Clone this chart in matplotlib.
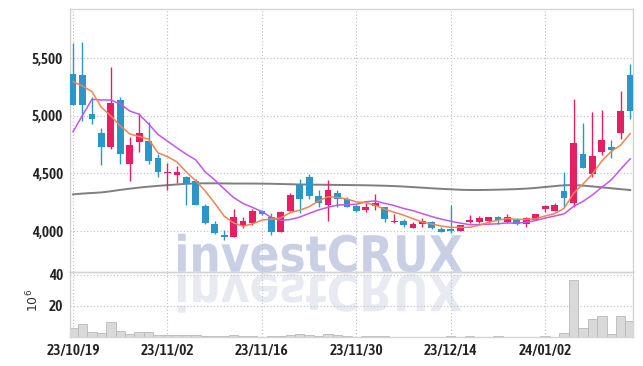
import numpy as np
import matplotlib
matplotlib.use('Agg')
import matplotlib.pyplot as plt
from matplotlib import font_manager as fm
from matplotlib.textpath import TextPath
from matplotlib.patches import PathPatch
from matplotlib.font_manager import FontProperties
from matplotlib.transforms import Affine2D

# daily candles (23/10/19 .. 24/01/15)
opens = [5363, 5350, 5015, 4850, 4725, 5140, 4580, 4770, 4780, 4635,
         4500, 4485, 4470, 4435, 4215, 4060, 3965, 3950, 4045, 4072,
         4175, 4125, 3995, 4176, 4397, 4465, 4305, 4226, 4333, 4275,
         4217, 4182, 4217, 4206, 4079, 4087, 4029, 4058, 4075, 4017,
         4020, 4003, 4078, 4078, 4089, 4119, 4075, 4095, 4061, 4095,
         4188, 4176, 4347, 4240, 4668, 4495, 4688, 4732, 4853, 5354]
highs = [5630, 5640, 5165, 4890, 5420, 5160, 4820, 5020, 4950, 4665,
         4590, 4565, 4475, 4450, 4235, 4085, 4010, 4195, 4120, 4195,
         4180, 4155, 4172, 4327, 4450, 4492, 4356, 4443, 4355, 4298,
         4225, 4245, 4321, 4210, 4145, 4100, 4075, 4110, 4085, 4032,
         4225, 4055, 4139, 4130, 4122, 4130, 4145, 4110, 4120, 4148,
         4226, 4246, 4515, 5143, 4935, 5030, 5050, 4790, 5215, 5447]
lows = [5090, 4955, 4925, 4575, 4710, 4585, 4435, 4690, 4585, 4470,
        4360, 4420, 4225, 4222, 4058, 3975, 3920, 3945, 4030, 4052,
        4135, 3965, 3990, 4172, 4155, 4275, 4210, 4090, 4212, 4205,
        4168, 4168, 4182, 4080, 4066, 4037, 4023, 4037, 4018, 3990,
        3980, 3998, 4066, 4066, 4072, 4058, 4066, 4052, 4037, 4092,
        4168, 4176, 4206, 4211, 4545, 4466, 4660, 4631, 4796, 4970]
closes = [5094, 5095, 4970, 4725, 5110, 4665, 4745, 4855, 4610, 4515,
          4505, 4515, 4415, 4230, 4070, 3980, 3950, 4120, 4085, 4175,
          4145, 3995, 4168, 4312, 4278, 4300, 4246, 4356, 4275, 4212,
          4178, 4211, 4240, 4104, 4083, 4052, 4058, 4087, 4023, 3994,
          4000, 4052, 4095, 4110, 4119, 4095, 4124, 4058, 4110, 4145,
          4217, 4226, 4289, 4760, 4549, 4651, 4790, 4703, 5042, 5044]

# moving averages as drawn
ma5 = [5296, 5259, 5210, 5074, 4999, 4913, 4843, 4820, 4797, 4678,
       4646, 4600, 4512, 4436, 4347, 4242, 4129, 4070, 4041, 4062,
       4095, 4104, 4114, 4159, 4180, 4211, 4261, 4298, 4291, 4278,
       4253, 4246, 4223, 4189, 4163, 4138, 4107, 4077, 4061, 4043,
       4032, 4031, 4033, 4050, 4075, 4094, 4109, 4101, 4101, 4106,
       4131, 4151, 4197, 4327, 4408, 4495, 4608, 4691, 4747, 4846]
ma10 = [4862, 5004, 5143, 5137, 5137, 5102, 5042, 5013, 4929, 4838,
        4780, 4722, 4666, 4617, 4513, 4444, 4365, 4291, 4239, 4205,
        4169, 4117, 4092, 4100, 4121, 4153, 4183, 4206, 4225, 4229,
        4232, 4254, 4261, 4240, 4221, 4196, 4177, 4150, 4125, 4103,
        4085, 4069, 4055, 4056, 4059, 4063, 4070, 4067, 4076, 4091,
        4113, 4130, 4149, 4214, 4257, 4313, 4380, 4444, 4537, 4627]
ma_long = [4318, 4325, 4330, 4335, 4345, 4357, 4367, 4377, 4385, 4392,
           4398, 4404, 4410, 4413, 4414, 4414, 4413, 4412, 4412, 4412,
           4411, 4410, 4408, 4406, 4404, 4403, 4402, 4401, 4400, 4399,
           4398, 4397, 4395, 4393, 4390, 4386, 4381, 4376, 4371, 4366,
           4362, 4358, 4356, 4356, 4357, 4359, 4361, 4364, 4368, 4374,
           4382, 4390, 4397, 4399, 4394, 4387, 4379, 4371, 4363, 4356]

# volume in millions
volume = [5.9, 8.4, 3.4, 2.7, 9.7, 4.0, 2.1, 3.4, 3.4, 1.1,
          1.1, 1.0, 1.0, 1.0, 0.8, 0.6, 0.6, 1.5, 0.4, 0.4,
          0.2, 0.4, 0.4, 1.0, 2.1, 1.5, 0.6, 2.1, 1.0, 0.4,
          0.1, 0.4, 0.4, 0.4, 0.1, 0.1, 0.1, 0.1, 0.1, 0.1,
          0.4, 0.1, 0.4, 0.1, 0.1, 0.4, 0.1, 0.1, 0.1, 0.1,
          0.4, 0.1, 2.7, 36.8, 6.1, 11.8, 13.7, 1.7, 13.5, 10.3]

tick_pos = [0, 10, 20, 30, 40, 50]
tick_labels = ['23/10/19', '23/11/02', '23/11/16', '23/11/30', '23/12/14', '24/01/02']
price_ticks = [4000, 4500, 5000, 5500]
vol_ticks = [20, 40]

RED = '#e61e64'
BLUE = '#2b96c8'
GRID = '#b9bdd9'
SPINE = '#d4d4d4'


# look for a narrow/condensed face among the installed fonts
def narrow_font():
    best = None
    for f in fm.fontManager.ttflist:
        st = str(f.stretch)
        if 'Narrow' in f.name or st in ('condensed', 'semi-condensed'):
            w = f.weight if isinstance(f.weight, int) else {'normal': 400, 'regular': 400, 'medium': 500,
                                                              'semibold': 600, 'bold': 700}.get(f.weight, 400)
            if f.style != 'normal':
                continue
            score = abs(w - 600) + (0 if st == 'condensed' or 'Narrow' in f.name else 50)
            if best is None or score < best[0]:
                best = (score, f.fname)
    if best:
        return FontProperties(fname=best[1], size=11)
    return FontProperties(family='DejaVu Sans', weight='bold', size=9.5)


tick_font = narrow_font()

fig = plt.figure(figsize=(6.43, 3.66), dpi=100)
ax = fig.add_axes([0.1089, 0.2577, 0.8756, 0.7177])
axv = fig.add_axes([0.1089, 0.0792, 0.8756, 0.1785], sharex=ax)
for a in (ax, axv):
    a.set_facecolor('none')
    for s in a.spines.values():
        s.set_color(SPINE)
        s.set_linewidth(1.0)
    a.grid(True, linestyle=(0, (1, 2)), color=GRID, linewidth=0.8)
    a.set_axisbelow(True)
    a.tick_params(length=0, labelcolor='#222222', pad=5)

o = np.array(opens)
c = np.array(closes)
x = np.arange(len(c))
colors = np.where(c >= o, RED, BLUE)

# candles
ax.vlines(x, lows, highs, colors=colors, linewidth=1.0, zorder=3)
body = np.maximum(np.abs(c - o), 12)
ax.bar(x, body, bottom=np.minimum(o, c), width=0.72, color=colors, linewidth=0, zorder=4)

# moving averages
ax.plot(x, ma_long, color='#7f7f7f', linewidth=1.4, zorder=2)
ax.plot(x, ma10, color='#c455ee', linewidth=1.1, zorder=5)
ax.plot(x, ma5, color='#f08550', linewidth=1.1, zorder=6)

ax.set_ylim(3647, 5927)
ax.set_yticks(price_ticks)
ax.set_yticklabels([f'{v:,}' for v in price_ticks], fontproperties=tick_font)
ax.tick_params(labelbottom=False)

# volume
axv.bar(x, volume, width=1.0, color='#d9d9d9', edgecolor='#b8b8b8', linewidth=0.6, zorder=2)
axv.set_ylim(0, 42)
axv.set_yticks(vol_ticks)
axv.set_yticklabels([str(v) for v in vol_ticks], fontproperties=tick_font)
axv.set_xticks(tick_pos)
axv.set_xticklabels(tick_labels, fontproperties=tick_font)
axv.set_xlim(-0.32, 59.3)

fig.text(0.052, 0.178, r'$10^6$', rotation=90, ha='center', va='center',
         fontsize=9, color='#333333', family='DejaVu Sans')

# watermark with reflection
tp = TextPath((0, 0), 'investCRUX', size=1, prop=FontProperties(family='DejaVu Sans', weight='bold'))
bb = tp.get_extents()
sx = 2.84 / bb.width
sy = 0.38 / bb.ymax
tr = Affine2D().translate(-bb.x0, 0).scale(sx, sy).translate(1.78, 0.943) + fig.dpi_scale_trans
fig.add_artist(PathPatch(tp, transform=tr, facecolor='#c9d0e5', edgecolor='none', zorder=-1))
tr2 = Affine2D().translate(-bb.x0, 0).scale(sx, -sy).translate(1.78, 0.913) + fig.dpi_scale_trans
fig.add_artist(PathPatch(tp, transform=tr2, facecolor='#e8eaf1', edgecolor='none', zorder=-1))

fig.savefig('out.png', dpi=100)
